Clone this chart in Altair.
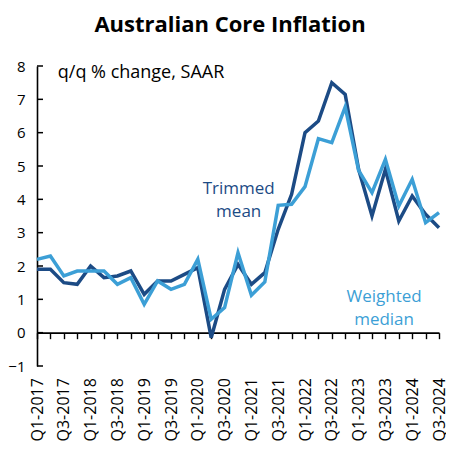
import altair as alt
import pandas as pd

quarters = [f"Q{q}-{y}" for y in range(2017, 2025) for q in range(1, 5)][:31]
trimmed_mean = [1.9, 1.9, 1.5, 1.45, 2.0, 1.65, 1.7, 1.85, 1.15, 1.55, 1.55, 1.75, 1.95, -0.15,
                1.3, 2.05, 1.45, 1.8, 3.1, 4.15, 6.0, 6.35, 7.5, 7.15, 4.9, 3.5, 4.9, 3.35, 4.1, 3.55, 3.15]
weighted_median = [2.2, 2.3, 1.7, 1.85, 1.85, 1.85, 1.45, 1.65, 0.85, 1.55, 1.3, 1.45, 2.2, 0.4,
                   0.75, 2.4, 1.12, 1.52, 3.82, 3.85, 4.38, 5.82, 5.7, 6.77, 4.87, 4.2, 5.2, 3.8, 4.6, 3.3, 3.6]
y_ticks = list(range(-1, 9))

DARK = "#1c4b85"
LIGHT = "#3c9fd6"
FONT = "Open Sans"

rows = []
for i, q in enumerate(quarters):
    rows.append({"i": i, "q": q, "series": "Trimmed mean", "v": trimmed_mean[i]})
for i, q in enumerate(quarters):
    rows.append({"i": i, "q": q, "series": "Weighted median", "v": weighted_median[i]})
df = pd.DataFrame(rows)

label_arr = "[" + ",".join("'" + q + "'" for q in quarters) + "]"
label_expr = f"(datum.value % 2 == 0) ? {label_arr}[datum.value] : ''"

xscale = alt.Scale(domain=[0, 30], nice=False, zero=False)
yscale = alt.Scale(domain=[-1, 8], nice=False)
cscale = alt.Scale(domain=["Trimmed mean", "Weighted median"], range=[DARK, LIGHT])

x_axis = alt.Axis(values=list(range(31)), labelExpr=label_expr, labelAngle=-90,
                  labelOverlap=False, offset=-33.33, tickSize=6, labelPadding=39,
                  title=None, grid=False, domainColor="black", tickColor="black",
                  domainWidth=1.6, tickWidth=1.4, labelFont=FONT, labelFontSize=16,
                  labelColor="black")
y_axis = alt.Axis(values=y_ticks, tickSize=0, labelPadding=12, labelOverlap=False,
                  title=None, grid=False, domainColor="black", domainWidth=1.6,
                  labelFont=FONT, labelFontSize=15, labelColor="black")

lines = alt.Chart(df).mark_line(strokeWidth=3.5, strokeJoin="miter").encode(
    x=alt.X("i:Q", scale=xscale, axis=x_axis),
    y=alt.Y("v:Q", scale=yscale, axis=y_axis),
    color=alt.Color("series:N", scale=cscale, legend=None),
)

ticks_df = pd.DataFrame({"t": y_ticks})
yticks = alt.Chart(ticks_df).mark_rule(color="black", strokeWidth=1.5).encode(
    y=alt.Y("t:Q", scale=yscale, axis=y_axis),
    x=alt.value(0), x2=alt.value(6),
)

ann_df = pd.DataFrame({
    "x": [15.05, 25.9],
    "y": [4.31, 1.08],
    "txt": ["Trimmed\nmean", "Weighted\nmedian"],
    "series": ["Trimmed mean", "Weighted median"],
})
ann = alt.Chart(ann_df).mark_text(font=FONT, fontSize=17, lineBreak="\n", lineHeight=23,
                                  align="center", baseline="middle").encode(
    x=alt.X("x:Q", scale=xscale, axis=x_axis), y=alt.Y("y:Q", scale=yscale, axis=y_axis),
    text="txt:N",
    color=alt.Color("series:N", scale=cscale, legend=None),
)

unit_df = pd.DataFrame({"x": [1.55], "y": [7.8], "txt": ["q/q % change, SAAR"]})
unit = alt.Chart(unit_df).mark_text(font=FONT, fontSize=18, align="left", baseline="middle",
                                    color="black").encode(
    x=alt.X("x:Q", scale=xscale, axis=x_axis), y=alt.Y("y:Q", scale=yscale, axis=y_axis),
    text="txt:N")

chart = alt.layer(lines, yticks, ann, unit).properties(
    width=402, height=300,
    background="white",
    title=alt.TitleParams("Australian Core Inflation", font=FONT, fontSize=22, fontWeight="bold",
                          color="black", anchor="middle", dx=-8, offset=22),
    autosize=alt.AutoSizeParams(type="none"),
    padding={"left": 29, "top": 58, "right": 7, "bottom": 76},
).configure_view(stroke=None).configure_axis(labelOverlap=False)

chart.save("out.html", embed_options={"renderer": "svg", "actions": False})
